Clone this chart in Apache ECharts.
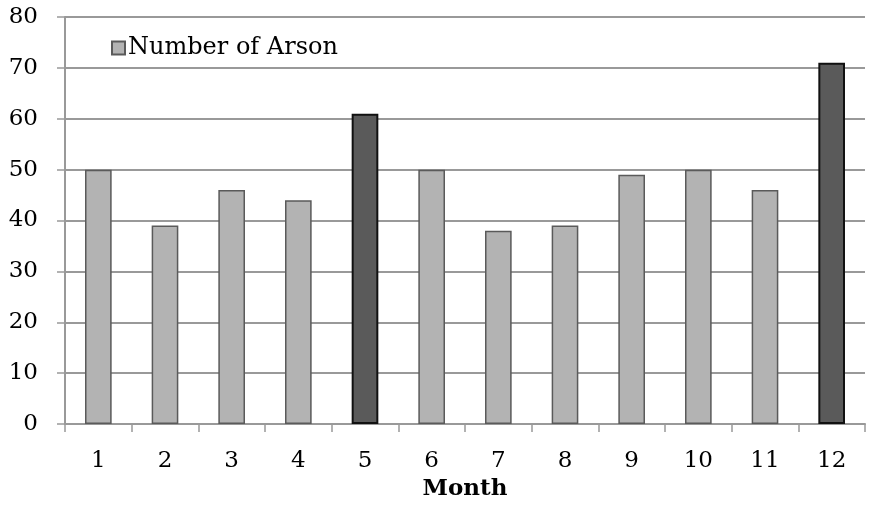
<!DOCTYPE html>
<html>
<head>
<meta charset="utf-8">
<script src="https://cdn.jsdelivr.net/npm/echarts@6/dist/echarts.min.js"></script>
<style>
  html, body { margin: 0; padding: 0; background: #fff; }
  #main { width: 869px; height: 508px; }
</style>
</head>
<body>
<div id="main"></div>
<script>
const months = ['1', '2', '3', '4', '5', '6', '7', '8', '9', '10', '11', '12']
const arson = [50, 39, 46, 44, 61, 50, 38, 39, 49, 50, 46, 71]
// months drawn in the dark colour
const highlighted = ['5', '12']

const FONT = 'DejaVu Serif'
const FS = 23

const chart = echarts.init(document.getElementById('main'))

const barData = arson.map((v, i) => {
  if (highlighted.indexOf(months[i]) >= 0) {
    return {
      value: v,
      itemStyle: { color: '#5a5a5a', borderColor: '#111', borderWidth: 2 }
    }
  }
  return v
})

const option = {
  animation: false,
  textStyle: { fontFamily: FONT },
  grid: { left: 65, right: 4, top: 17, bottom: 84, outerBoundsMode: 'none', containLabel: false },
  legend: {
    left: 106,
    top: 31,
    itemWidth: 13,
    itemHeight: 13,
    itemGap: 4,
    icon: 'rect',
    textStyle: { fontFamily: FONT, fontSize: 24, color: '#000', padding: [0, 0, 0, -2] },
    data: ['Number of Arson']
  },
  xAxis: {
    type: 'category',
    data: months,
    name: 'Month',
    nameLocation: 'middle',
    nameGap: 54,
    nameTextStyle: { fontFamily: FONT, fontSize: FS, fontWeight: 'bold', color: '#000' },
    axisLine: { lineStyle: { color: '#999', width: 2 } },
    axisTick: { show: true, length: 8, lineStyle: { color: '#999', width: 1.5 } },
    axisLabel: { fontFamily: FONT, fontSize: FS, color: '#000', margin: 26 }
  },
  yAxis: {
    type: 'value',
    min: 0,
    max: 80,
    interval: 10,
    axisLine: { show: true, lineStyle: { color: '#999', width: 2 } },
    axisTick: { show: true, length: 8, lineStyle: { color: '#999', width: 1.5 } },
    axisLabel: { fontFamily: FONT, fontSize: FS, color: '#000', margin: 27 },
    splitLine: { lineStyle: { color: '#999', width: 2 } }
  },
  series: [
    {
      name: 'Number of Arson',
      type: 'bar',
      data: barData,
      barWidth: '40%',
      itemStyle: { color: '#b3b3b3', borderColor: '#5a5a5a', borderWidth: 1.5 }
    }
  ]
}

chart.setOption(option)
</script>
</body>
</html>
